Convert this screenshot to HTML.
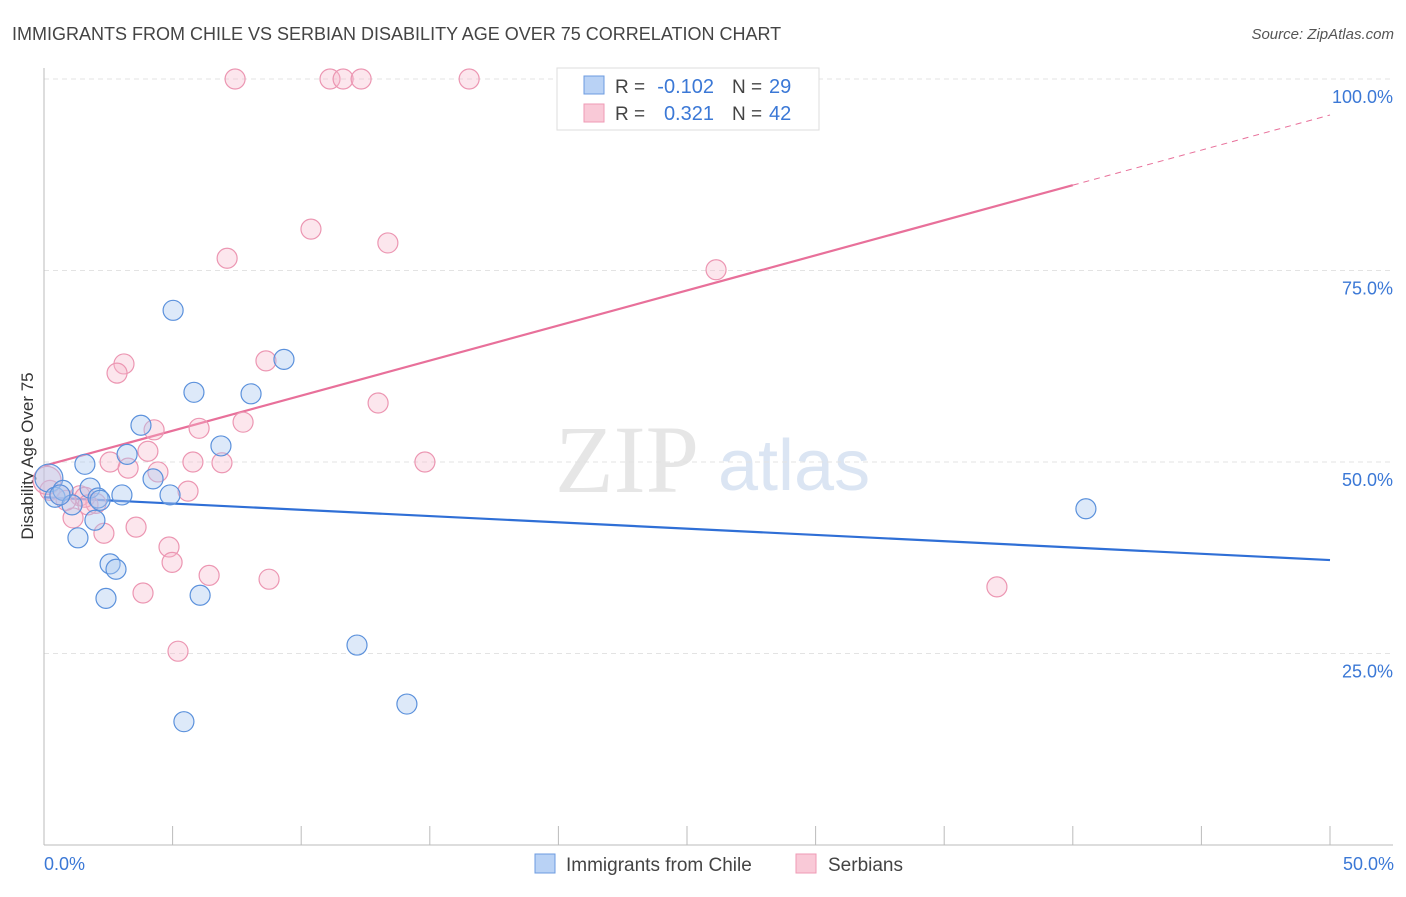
<!DOCTYPE html>
<html><head><meta charset="utf-8"><style>
body{margin:0;background:#fff;font-family:"Liberation Sans",sans-serif;}
</style></head><body>
<svg id="chart" width="1406" height="892" xmlns="http://www.w3.org/2000/svg">
<text x="12" y="40" font-size="18" fill="#444">IMMIGRANTS FROM CHILE VS SERBIAN DISABILITY AGE OVER 75 CORRELATION CHART</text>
<text x="1394" y="39" font-size="15" fill="#555" text-anchor="end" font-style="italic">Source: ZipAtlas.com</text>
<text x="555" y="492" font-size="96" fill="#e6e6e6" font-family="Liberation Serif,serif">ZIP</text>
<text x="718" y="490" font-size="72" fill="#dbe5f3">atlas</text>
<g id="grid"></g>
<line x1="44" y1="68" x2="44" y2="845" stroke="#bbb"/>
<line x1="44" y1="845" x2="1393" y2="845" stroke="#bbb"/>
<text transform="translate(33,456) rotate(-90)" font-size="17" fill="#333" text-anchor="middle">Disability Age Over 75</text>
<text x="44" y="870" font-size="18" fill="#3b78d6">0.0%</text>
<text x="1394" y="870" font-size="18" fill="#3b78d6" text-anchor="end">50.0%</text>
<g id="lines"></g>
<g id="points"></g>
<g>
<rect x="557" y="68" width="262" height="62" fill="#fff" stroke="#ddd"/>
<rect x="584" y="76" width="20" height="18" fill="#b9d2f5" stroke="#6c9be0"/>
<rect x="584" y="104" width="20" height="18" fill="#f9c9d7" stroke="#ef9ab4"/>
<text x="615" y="93" font-size="19" fill="#444">R =</text>
<text x="714" y="93" font-size="20" fill="#3b78d6" text-anchor="end">-0.102</text>
<text x="732" y="93" font-size="19" fill="#444">N =</text>
<text x="769" y="93" font-size="20" fill="#3b78d6">29</text>
<text x="615" y="120" font-size="19" fill="#444">R =</text>
<text x="714" y="120" font-size="20" fill="#3b78d6" text-anchor="end">0.321</text>
<text x="732" y="120" font-size="19" fill="#444">N =</text>
<text x="769" y="120" font-size="20" fill="#3b78d6">42</text>
</g>
<g>
<rect x="535" y="854" width="20" height="19" fill="#b9d2f5" stroke="#6c9be0"/>
<text x="566" y="871" font-size="19" fill="#444">Immigrants from Chile</text>
<rect x="796" y="854" width="20" height="19" fill="#f9c9d7" stroke="#ef9ab4"/>
<text x="828" y="871" font-size="19" fill="#444">Serbians</text>
</g>
</svg>
<script>
const yTicks=[25,50,75,100];
const yTickLabels=["25.0%","50.0%","75.0%","100.0%"];
const xTickVals=[0,5,10,15,20,25,30,35,40,45,50];
const chileX=[0.19,0.43,0.74,1.09,1.59,1.79,1.98,2.10,1.32,2.57,2.80,2.41,3.03,3.23,3.77,4.24,4.90,5.02,5.44,5.83,6.07,6.88,8.05,9.33,12.17,14.11,40.51,0.62,2.18];
const chileY=[47.9,45.4,46.3,44.4,49.7,46.6,42.4,45.3,40.1,36.7,36.0,32.2,45.7,51.0,54.8,47.8,45.7,69.8,16.1,59.1,32.6,52.1,58.9,63.4,26.1,18.4,43.9,45.7,45.0];
const serbX=[7.43,11.12,11.63,12.33,16.53,10.38,13.37,7.12,26.13,3.11,2.84,8.63,12.99,7.74,4.28,6.03,4.04,2.57,5.79,6.92,14.81,3.27,4.43,5.60,1.40,2.02,1.13,2.33,3.58,4.86,4.98,6.42,8.75,3.85,5.21,37.05,0.23,0.62,1.59,0.86,1.71,0.12];
const serbY=[100,100,100,100,100,80.4,78.6,76.6,75.1,62.8,61.6,63.2,57.7,55.2,54.2,54.4,51.4,50.0,50.0,49.9,50.0,49.2,48.7,46.2,45.6,44.6,42.7,40.7,41.5,38.9,36.9,35.2,34.7,32.9,25.3,33.7,46.3,45.7,45.4,45.0,44.4,47.6];
const chileTrend=[45.4,37.2];
const serbTrend=[49.5,95.3];
const NS="http://www.w3.org/2000/svg";
const X=v=>44+v/50*1286, Y=v=>845-v/100*766;
function mk(t,a,p){const e=document.createElementNS(NS,t);for(const k in a)e.setAttribute(k,a[k]);p.appendChild(e);return e;}
const grid=document.getElementById('grid');
yTicks.forEach((t,i)=>{
 const l=mk('line',{x1:44,x2:1393,y1:Y(t),y2:Y(t),stroke:'#e3e3e3','stroke-dasharray':'5,4'},grid);
 
 
 const tx=mk('text',{x:1393,y:Y(t)+24,'font-size':18,fill:'#3b78d6','text-anchor':'end'},grid);
 tx.textContent=yTickLabels[i];
 
 
});
xTickVals.forEach(v=>{
 const l=mk('line',{x1:X(v),x2:X(v),y1:826,y2:845,stroke:'#bbb'},grid);
 
 
});
const lines=document.getElementById('lines');
let l1=mk('line',{x1:X(0),y1:Y(chileTrend[0]),x2:X(50),y2:Y(chileTrend[1]),stroke:'#2f6fd6','stroke-width':2.2},lines);


const s40=serbTrend[0]+(serbTrend[1]-serbTrend[0])*0.8;
let l2=mk('line',{x1:X(0),y1:Y(serbTrend[0]),x2:X(40),y2:Y(s40),stroke:'#e8709a','stroke-width':2.2},lines);


let l3=mk('line',{x1:X(40),y1:Y(s40),x2:X(50),y2:Y(serbTrend[1]),stroke:'#e8709a','stroke-width':1,'stroke-dasharray':'6,5'},lines);


const pts=document.getElementById('points');
serbX.forEach((x,i)=>{
 const c=mk('circle',{cx:X(x),cy:Y(serbY[i]),r:i==serbX.length-1?14:10,fill:'#f7b8cb','fill-opacity':0.35,stroke:'#ec96b2','stroke-width':1.2},pts);
 
 
});
chileX.forEach((x,i)=>{
 const c=mk('circle',{cx:X(x),cy:Y(chileY[i]),r:i==0?14:10,fill:'#a9c8f0','fill-opacity':0.4,stroke:'#5b91dc','stroke-width':1.2},pts);
 
 
});
</script>
</body></html>
